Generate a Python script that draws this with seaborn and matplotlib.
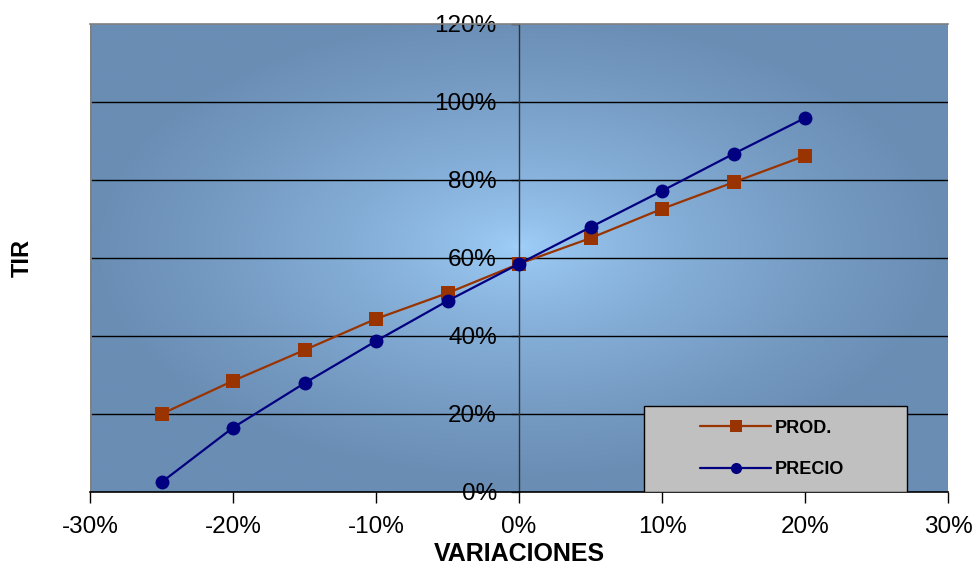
import numpy as np
import pandas as pd
import matplotlib
matplotlib.use("Agg")
import matplotlib.pyplot as plt
import seaborn as sns
from matplotlib.colors import LinearSegmentedColormap
from matplotlib.ticker import FuncFormatter
from matplotlib.patches import Rectangle

# Sensitivity of the IRR (TIR) to variations in production and price
variaciones = [-0.25, -0.20, -0.15, -0.10, -0.05, 0.00, 0.05, 0.10, 0.15, 0.20]
tir_prod = [0.200, 0.285, 0.364, 0.444, 0.510, 0.585, 0.651, 0.726, 0.794, 0.862]
tir_precio = [0.025, 0.165, 0.279, 0.387, 0.490, 0.585, 0.679, 0.772, 0.867, 0.959]
series_names = ["PROD.", "PRECIO"]

x_ticks = [-0.30, -0.20, -0.10, 0.00, 0.10, 0.20, 0.30]
y_ticks = [0.0, 0.2, 0.4, 0.6, 0.8, 1.0, 1.2]

df = pd.DataFrame({
    "VARIACIONES": variaciones * 2,
    "TIR": tir_prod + tir_precio,
    "serie": [series_names[0]] * len(variaciones) + [series_names[1]] * len(variaciones),
})

sns.set_theme(style="white")
plt.rcParams["font.family"] = ["Liberation Sans", "DejaVu Sans"]
plt.rcParams["axes.unicode_minus"] = False

fig = plt.figure(figsize=(9.78, 5.70), dpi=100)
ax = fig.add_axes([90 / 978, 78 / 570, 858 / 978, 468 / 570])

xmin, xmax = -0.30, 0.30
ymin, ymax = 0.0, 1.2
ax.set_xlim(xmin, xmax)
ax.set_ylim(ymin, ymax)

# Radial blue gradient filling the plot area
ny, nx = 300, 600
gx = np.linspace(-1, 1, nx)
gy = np.linspace(-1, 1, ny)
GX, GY = np.meshgrid(gx, gy)
r = np.sqrt(GX ** 2 + (GY - 0.05) ** 2)
f = np.clip(r, 0, 1) ** 0.7
cmap = LinearSegmentedColormap.from_list("bg", ["#a0d0fb", "#6a8db4"])
ax.imshow(f, cmap=cmap, vmin=0, vmax=1, extent=[xmin, xmax, ymin, ymax],
          aspect="auto", origin="lower", zorder=0, interpolation="bilinear")

# Horizontal gridlines
for yv in y_ticks[1:-1]:
    ax.axhline(yv, color="black", lw=1.0, zorder=1)

palette = {"PROD.": "#993300", "PRECIO": "#000080"}
markers = {"PROD.": "s", "PRECIO": "o"}
sns.lineplot(data=df, x="VARIACIONES", y="TIR", hue="serie", style="serie",
             palette=palette, markers=markers, dashes=False, markersize=10,
             markeredgewidth=0, linewidth=1.6, ax=ax, zorder=3)

# Axes crossing at zero: y axis in the middle
ax.spines["right"].set_visible(False)
ax.spines["top"].set_color("#808080")
ax.spines["top"].set_linewidth(1.2)
ax.spines["left"].set_position(("data", 0.0))
ax.spines["left"].set_color("#333333")
ax.spines["left"].set_linewidth(1.0)
ax.spines["bottom"].set_color("black")
ax.spines["bottom"].set_linewidth(1.2)
ax.axvline(xmin, color="#808080", lw=2, zorder=1)

pct = FuncFormatter(lambda v, _: f"{v * 100:.0f}%".replace("\u2212", "-"))
ax.set_xticks(x_ticks)
ax.set_yticks(y_ticks)
ax.xaxis.set_major_formatter(pct)
ax.yaxis.set_major_formatter(pct)
ax.tick_params(axis="x", direction="out", length=8, width=1, color="black",
               labelsize=17.5, pad=9, bottom=True, labelcolor="black")
ax.tick_params(axis="y", direction="out", length=6, width=1, color="#333333",
               labelsize=17.5, pad=10, left=True, labelcolor="black")
for lab in ax.get_yticklabels():
    lab.set_zorder(5)

ax.set_xlabel("VARIACIONES", fontsize=18, fontweight="bold", labelpad=3,
              color="black")
ax.set_ylabel("")
fig.text(22 / 978, 1 - 258 / 570, "TIR", rotation=90, fontsize=17,
         fontweight="bold", ha="center", va="center", color="black")

# Legend box
bx0, bx1 = (644 - 90) / 858, (907 - 90) / 858
by1 = (492 - 406) / 468
ax.add_patch(Rectangle((bx0, 0.0), bx1 - bx0, by1, transform=ax.transAxes,
                       facecolor="#c0c0c0", edgecolor="black", lw=1.0,
                       zorder=6))
leg = ax.legend(loc="center", bbox_to_anchor=((bx0 + bx1) / 2 - 0.004, by1 / 2),
                frameon=False, handlelength=3.9, labelspacing=1.35,
                borderpad=0.0, handletextpad=0.2,
                prop={"weight": "bold", "size": 13})
leg.set_zorder(7)
for ln in leg.get_lines():
    ln.set_markersize(8)
for t in leg.get_texts():
    t.set_color("black")

fig.savefig("out.png", dpi=100)
